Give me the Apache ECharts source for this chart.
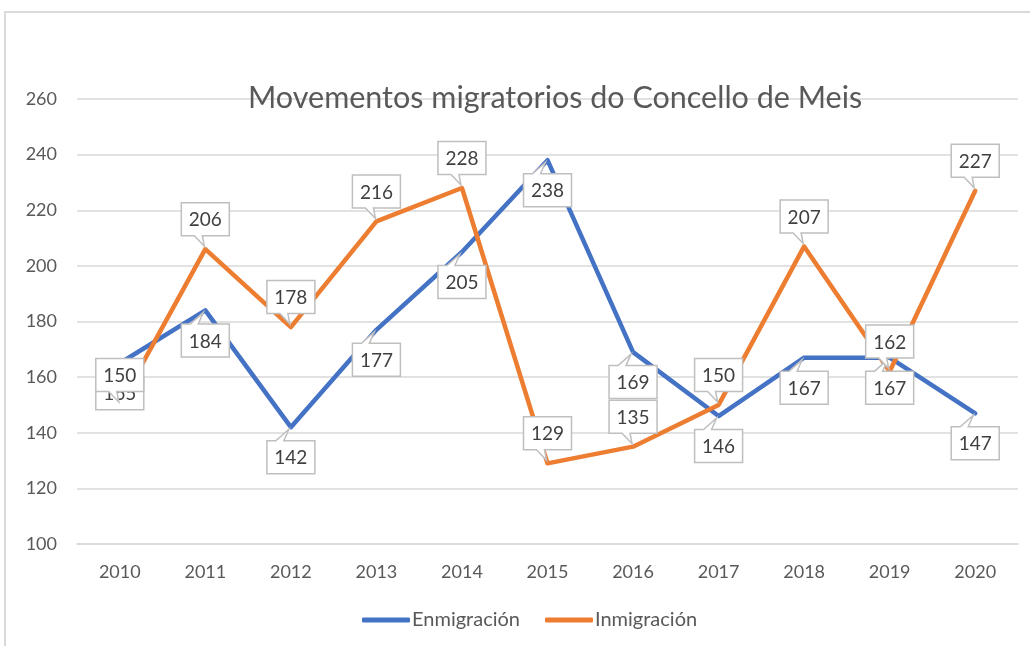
<!DOCTYPE html>
<html>
<head>
<meta charset="utf-8">
<script src="https://cdn.jsdelivr.net/npm/echarts@6/dist/echarts.min.js"></script>
<style>html,body{margin:0;padding:0;background:#fff;}#c{width:1030px;height:646px;}</style>
</head>
<body>
<div id="c"></div>
<script>
const years = ['2010','2011','2012','2013','2014','2015','2016','2017','2018','2019','2020'];
const enmigracion = [165,184,142,177,205,238,169,146,167,167,147];
const inmigracion = [150,206,178,216,228,129,135,150,207,162,227];
const yTicks = {min:100, max:260, interval:20};

const BLUE = '#4472C4', ORANGE = '#ED7D31';
const FONT = 'Lato';

function callout(dir){
  return function(params, api){
    const pt = api.coord([api.value(0), api.value(1)]);
    const w = 48, h = 33, off = 30;
    const cx = pt[0], cy = pt[1] + dir*off;
    const x0 = cx - w/2, x1 = cx + w/2, y0 = cy - h/2, y1 = cy + h/2;
    let points;
    if (dir < 0) {
      const apex = [pt[0]-1, pt[1]-3];
      points = [[x0,y0],[x1,y0],[x1,y1],[cx-3,y1],apex,[cx-11,y1],[x0,y1]];
    } else {
      const apex = [pt[0]-2, pt[1]+2];
      points = [[x0,y0],[cx-15,y0],apex,[cx-7,y0],[x1,y0],[x1,y1],[x0,y1]];
    }
    return {type:'group', children:[
      {type:'polygon', shape:{points:points}, style:{fill:'#ffffff', stroke:'#bfbfbf', lineWidth:1.5}},
      {type:'text', style:{text:String(api.value(1)), x:cx, y:cy+1, align:'center', verticalAlign:'middle', fill:'#404040', font:'19px ' + FONT}}
    ]};
  };
}

const chart = echarts.init(document.getElementById('c'), null, {renderer:'canvas'});
chart.setOption({
  animation:false,
  backgroundColor:'#ffffff',
  graphic:[{type:'rect', shape:{x:5, y:12, width:1060, height:700}, style:{fill:'none', stroke:'#d9d9d9', lineWidth:2}, z:-1}],
  title:{text:'Movementos migratorios do Concello de Meis', left:243, top:78,
    textStyle:{fontFamily:FONT, fontSize:30.5, fontWeight:'normal', color:'#595959'}},
  legend:{data:[{name:'Enmigración', icon:'roundRect'},{name:'Inmigración', icon:'roundRect'}],
    left:357, top:605, itemWidth:48, itemHeight:5, itemGap:25,
    textStyle:{fontFamily:FONT, fontSize:20, color:'#595959', padding:[0,0,0,-3]}},
  grid:{left:77, right:12, top:99, bottom:102, containLabel:false},
  xAxis:{type:'category', data:years, boundaryGap:true,
    axisLine:{lineStyle:{color:'#d9d9d9', width:1.5}}, axisTick:{show:false},
    axisLabel:{fontFamily:FONT, fontSize:18, color:'#595959', margin:19}},
  yAxis:{type:'value', min:yTicks.min, max:yTicks.max, interval:yTicks.interval,
    axisLine:{show:false}, axisTick:{show:false},
    splitLine:{lineStyle:{color:'#d9d9d9', width:1.5}},
    axisLabel:{fontFamily:FONT, fontSize:18, color:'#595959', margin:20}},
  series:[
    {name:'Enmigración', type:'line', data:enmigracion, symbol:'none', color:BLUE,
      lineStyle:{width:4.5, color:BLUE, cap:'round', join:'round'}, z:2},
    {name:'Inmigración', type:'line', data:inmigracion, symbol:'none', color:ORANGE,
      lineStyle:{width:4.5, color:ORANGE, cap:'round', join:'round'}, z:2},
    {name:'lblE', type:'custom', renderItem:callout(1), data:enmigracion.map((v,i)=>[i,v]), z:5, silent:true},
    {name:'lblI', type:'custom', renderItem:callout(-1), data:inmigracion.map((v,i)=>[i,v]), z:6, silent:true}
  ]
});
</script>
</body>
</html>
